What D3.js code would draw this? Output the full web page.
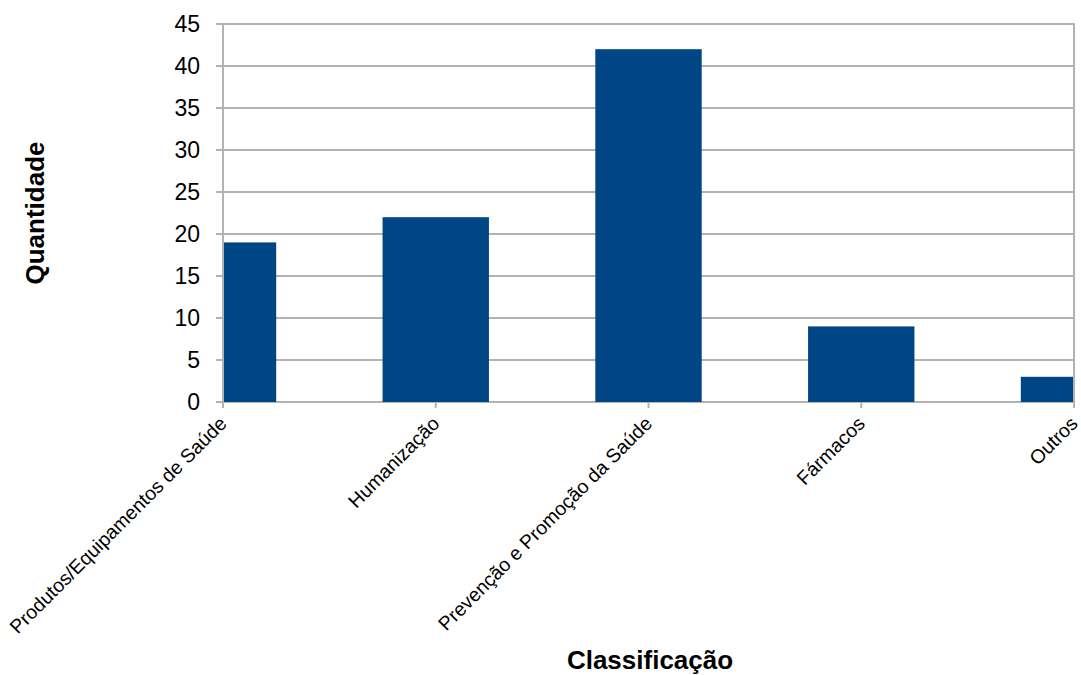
<!DOCTYPE html>
<html>
<head>
<meta charset="utf-8">
<script src="https://cdn.jsdelivr.net/npm/d3@7"></script>
<style>
  html, body { margin: 0; padding: 0; background: #fff; }
  svg { display: block; font-family: "Liberation Sans", Arial, sans-serif; }
</style>
</head>
<body>
<svg id="chart" width="1081" height="675"></svg>
<script>
// Projects per classification
const categories = [
  "Produtos/Equipamentos de Saúde",
  "Humanização",
  "Prevenção e Promoção da Saúde",
  "Fármacos",
  "Outros"
];
const quantities = [19, 22, 42, 9, 3];
const yTicks = [0, 5, 10, 15, 20, 25, 30, 35, 40, 45];

const svg = d3.select("#chart");
const plotLeft = 223, plotRight = 1074, plotTop = 24, plotBottom = 402;
const gridColor = "#b3b3b3";
const barColor = "#004586";

// Categories sit on the tick marks, first and last on the plot edges
const x = d3.scalePoint().domain(categories).range([plotLeft, plotRight]);
const y = d3.scaleLinear().domain([0, 45]).range([plotBottom, plotTop]);
const barW = x.step() / 2;

svg.append("defs").append("clipPath").attr("id", "plot")
  .append("rect").attr("x", plotLeft).attr("y", plotTop)
  .attr("width", plotRight - plotLeft).attr("height", plotBottom - plotTop);

// Horizontal gridlines with outward tick stubs
svg.append("g").selectAll("line").data(yTicks).join("line")
  .attr("x1", plotLeft - 7).attr("x2", plotRight)
  .attr("y1", d => y(d)).attr("y2", d => y(d))
  .attr("stroke", gridColor).attr("stroke-width", 2);

// Bars, clipped to the plot area
svg.append("g").attr("clip-path", "url(#plot)")
  .selectAll("rect").data(categories).join("rect")
  .attr("x", d => x(d) - barW / 2)
  .attr("width", barW)
  .attr("y", (d, i) => y(quantities[i]))
  .attr("height", (d, i) => y(0) - y(quantities[i]))
  .attr("fill", barColor);

// Left axis line and right border
svg.append("line").attr("x1", plotLeft).attr("x2", plotLeft)
  .attr("y1", plotTop).attr("y2", plotBottom + 6)
  .attr("stroke", gridColor).attr("stroke-width", 2);
svg.append("line").attr("x1", plotRight).attr("x2", plotRight)
  .attr("y1", plotTop - 1).attr("y2", plotBottom + 6)
  .attr("stroke", gridColor).attr("stroke-width", 2);

// Category tick marks below the baseline
svg.append("g").selectAll("line").data(categories).join("line")
  .attr("x1", d => x(d)).attr("x2", d => x(d))
  .attr("y1", plotBottom).attr("y2", plotBottom + 6)
  .attr("stroke", gridColor).attr("stroke-width", 2);

// Y tick labels
svg.append("g").selectAll("text").data(yTicks).join("text")
  .attr("x", 200).attr("y", d => y(d))
  .attr("dy", "0.36em")
  .attr("text-anchor", "end")
  .attr("font-size", 23)
  .attr("fill", "#000")
  .text(d => d);

// Rotated category labels
svg.append("g").selectAll("text").data(categories).join("text")
  .attr("transform", d => `translate(${x(d)},${plotBottom + 18}) rotate(-45)`)
  .attr("text-anchor", "end")
  .attr("dy", "0.35em")
  .attr("font-size", 19.5)
  .attr("fill", "#000")
  .text(d => d);

// Axis titles
svg.append("text")
  .attr("transform", "translate(44,213) rotate(-90)")
  .attr("text-anchor", "middle")
  .attr("font-size", 26).attr("font-weight", "bold")
  .text("Quantidade");
svg.append("text")
  .attr("x", 650).attr("y", 669)
  .attr("text-anchor", "middle")
  .attr("font-size", 26).attr("font-weight", "bold")
  .text("Classificação");
</script>
</body>
</html>
